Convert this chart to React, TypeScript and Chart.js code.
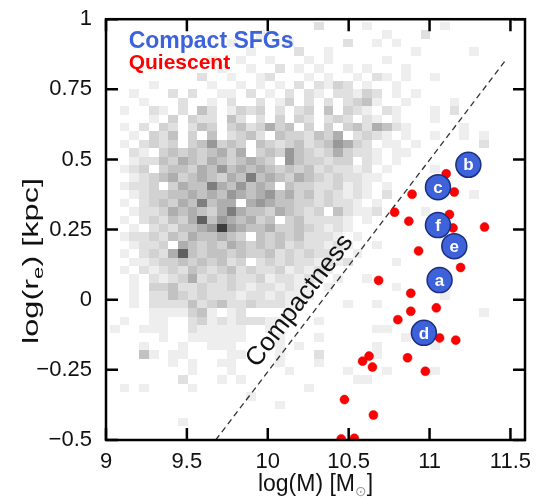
import React, { useEffect, useRef } from "react";
import { Chart, registerables } from "chart.js";
Chart.register(...registerables);

const FONT = "'Liberation Sans', Arial, Helvetica, sans-serif";

// Axis ticks
const xTickValues = [9, 9.5, 10, 10.5, 11, 11.5];
const xTickLabels = ["9", "9.5", "10", "10.5", "11", "11.5"];
const yTickValues = [-0.5, -0.25, 0, 0.25, 0.5, 0.75, 1];
const yTickLabels = ["\u22120.5", "\u22120.25", "0", "0.25", "0.5", "0.75", "1"];

// Quiescent galaxies (red)
const quiescentX = [11.103, 11.153, 10.892, 10.784, 10.872, 11.123, 11.145, 11.34, 10.932, 11.192, 10.685, 10.884, 11.042, 10.884, 10.804, 11.062, 11.162, 10.864, 10.626, 10.586, 10.647, 10.974, 10.474, 10.653, 10.454, 10.535];
const quiescentY = [0.449, 0.384, 0.376, 0.312, 0.28, 0.304, 0.256, 0.259, 0.174, 0.115, 0.069, 0.023, -0.029, -0.041, -0.071, -0.136, -0.144, -0.207, -0.201, -0.219, -0.24, -0.255, -0.356, -0.411, -0.496, -0.494];

// Compact SFGs (blue, labelled)
const sfgLabels = ["a", "b", "c", "d", "e", "f"];
const sfgX = [11.062, 11.24, 11.052, 10.965, 11.153, 11.052];
const sfgY = [0.07, 0.481, 0.401, -0.118, 0.191, 0.266];

// Compactness threshold line
const compactLineX = [9.678, 11.476];
const compactLineY = [-0.5, 0.858];

// 2D histogram of the parent sample: bins of 0.06 dex (mass) x 0.03 dex (size)
const histX0 = 9.025;
const histDX = 0.06;
const histY0 = -0.51;
const histDY = 0.03;
// rows listed from top (y = 0.96..0.99) to bottom (y = -0.51..-0.48); '.' = empty, 1..9 = density level
const histRows = [
  ".......... .......... .2....1... ....1....",
  ".......... .....1.... ........1. ..2......",
  ".......... ..1.....1. ....2..1.1 .........",
  ".......... ....1....2 ..1....... .1.....1.",
  ".......... 1..1..1... 1.1.....1. .........",
  ".......... .1..1..2.1 .1..1.1... 1........",
  ".........2 ..1..12... 1.1..1.21. 1..1.....",
  "....1..... 1..1.1.1.2 .2132.1..1 .........",
  "..1...2.2. .11.2.1.2. 21.22132.1 .1.......",
  "...1...2.. 1.2..2.13. 2.2.2341.. 1....1...",
  ".1..21.2.4 2.1323.2.2 3.4.321.21 ...1.2...",
  "....1.3.32 2.42.2.3.3 2.232.21.1 ...1.....",
  ".1.2.32.24 3.3423534. 3.3.342542 1.....1..",
  "..1.324.3. 4.2342.433 2435.2321. 1..1..1.1",
  ".1.2323.34 6343.43234 2346532.11 .1......2",
  "..21.34343 4535.34364 32353221.1 1........",
  "..12243543 5434543.64 33233.21.1 .........",
  ".123.34435 4645454343 4232212.1. ...1.....",
  "..12345345 4354745435 43232211.. .........",
  ".1223.3544 7546454.43 3223121.1. .........",
  "..12334454 5465456453 4232121.2. .......1.",
  ".1.2343547 455.565443 323221.1.. .........",
  "..12235454 3575443543 23.42112.. ..1......",
  ".1.2324358 4654534.34 22221.1... .........",
  "..1.232445 6965445334 32121..... .........",
  ".122324354 4543.43434 2221.1.... .........",
  "..1223.543 4354343423 22121..1.. .........",
  ".1.2325843 4434334232 3221.1.... .........",
  "..11233434 3423.23232 21212....1 .........",
  ".1.2123243 2342322312 121....... .........",
  "..1.212352 3232231221 21.1..1... .........",
  "..1.334223 2232122121 1.1......1 .........",
  "..1.224323 2221221211 1......... ....1....",
  "..1.222242 3422322211 ....1..1.. .........",
  "....111134 1.12....1. .......... ........1",
  ".1..11..23 12122211.. .1........ .........",
  "1..111..21 1111..1... .......11. .........",
  ".....1..11 1111...1.. .1........ 1........",
  "...1...1.. 111....1.1 .......1.. ...1.....",
  "...41.11.. ..11...1.. .2.....1.. .........",
  "......1.1. .11....1.. .1........ .........",
  "........1. ..1.....1. ....1...1. ...1.....",
  ".......2.. .1.1...... .....11... .........",
  ".1.1....1. .......... 1......... .........",
  ".......... ....1..... .......... .........",
  ".......... .......1.. .......... .........",
  ".......... .......... .......... .........",
  ".......1.. .......... .......... .........",
  ".......... .......... .......... .........",
  ".......... .......... .......... .........",
];
const histGrays = ["#eeeeee", "#e0e0e0", "#d2d2d2", "#c2c2c2", "#aeaeae", "#989898", "#7e7e7e", "#606060", "#3c3c3c"];

const histPlugin = {
  id: "hist2d",
  beforeDatasetsDraw(chart: any) {
    const { ctx, chartArea, scales } = chart;
    const xs = scales.x;
    const ys = scales.y;
    ctx.save();
    ctx.beginPath();
    ctx.rect(chartArea.left, chartArea.top, chartArea.width, chartArea.height);
    ctx.clip();
    const n = histRows.length;
    histRows.forEach((raw, r) => {
      const row = raw.replace(/ /g, "");
      const yb = histY0 + (n - 1 - r) * histDY;
      const py0 = Math.round(ys.getPixelForValue(yb + histDY));
      const py1 = Math.round(ys.getPixelForValue(yb));
      for (let c = 0; c < row.length; c++) {
        const ch = row[c];
        if (ch === ".") continue;
        const lvl = parseInt(ch, 10);
        const px0 = Math.round(xs.getPixelForValue(histX0 + c * histDX));
        const px1 = Math.round(xs.getPixelForValue(histX0 + (c + 1) * histDX));
        ctx.fillStyle = histGrays[lvl - 1];
        ctx.fillRect(px0, py0, px1 - px0, py1 - py0);
      }
    });
    ctx.restore();
  },
};

function drawPieces(ctx: CanvasRenderingContext2D, pieces: any[], startX: number) {
  let x = startX;
  for (const p of pieces) {
    ctx.font = p.font;
    ctx.fillStyle = p.color;
    ctx.fillText(p.text, x, p.dy);
    x += ctx.measureText(p.text).width;
  }
}
function measurePieces(ctx: CanvasRenderingContext2D, pieces: any[]) {
  let w = 0;
  for (const p of pieces) {
    ctx.font = p.font;
    w += ctx.measureText(p.text).width;
  }
  return w;
}

const decorPlugin = {
  id: "decor",
  afterDatasetsDraw(chart: any) {
    const { ctx } = chart;
    const meta = chart.getDatasetMeta(0);
    ctx.save();
    ctx.font = `bold 17px ${FONT}`;
    ctx.fillStyle = "#ffffff";
    ctx.textAlign = "center";
    ctx.textBaseline = "middle";
    meta.data.forEach((el: any, i: number) => {
      ctx.fillText(sfgLabels[i], el.x, el.y + 1);
    });
    ctx.restore();
  },
  afterDraw(chart: any) {
    const { ctx, chartArea, scales } = chart;
    const xs = scales.x;
    const ys = scales.y;
    const { left, right, top, bottom } = chartArea;
    ctx.save();
    // frame
    ctx.strokeStyle = "#000";
    ctx.lineWidth = 2.5;
    ctx.strokeRect(left, top, right - left, bottom - top);
    // inward ticks on all four sides
    const tl = 12;
    ctx.beginPath();
    xTickValues.forEach((v) => {
      const px = xs.getPixelForValue(v);
      ctx.moveTo(px, bottom);
      ctx.lineTo(px, bottom - tl);
      ctx.moveTo(px, top);
      ctx.lineTo(px, top + tl);
    });
    yTickValues.forEach((v) => {
      const py = ys.getPixelForValue(v);
      ctx.moveTo(left, py);
      ctx.lineTo(left + tl, py);
      ctx.moveTo(right, py);
      ctx.lineTo(right - tl, py);
    });
    ctx.stroke();

    // legend texts
    ctx.textAlign = "left";
    ctx.textBaseline = "alphabetic";
    ctx.font = `bold 23px ${FONT}`;
    ctx.fillStyle = "#3d63dc";
    ctx.fillText("Compact SFGs", xs.getPixelForValue(9.14), ys.getPixelForValue(0.897));
    ctx.font = `bold 21px ${FONT}`;
    ctx.fillStyle = "#ff0000";
    ctx.fillText("Quiescent", xs.getPixelForValue(9.14), ys.getPixelForValue(0.823));

    // Compactness label along the line
    const lx0 = xs.getPixelForValue(compactLineX[0]);
    const ly0 = ys.getPixelForValue(compactLineY[0]);
    const lx1 = xs.getPixelForValue(compactLineX[1]);
    const ly1 = ys.getPixelForValue(compactLineY[1]);
    const ang = Math.atan2(ly1 - ly0, lx1 - lx0);
    ctx.save();
    ctx.translate(xs.getPixelForValue(10.198), ys.getPixelForValue(-0.004));
    ctx.rotate(ang);
    ctx.font = `26px ${FONT}`;
    ctx.fillStyle = "#111";
    ctx.textAlign = "center";
    ctx.textBaseline = "middle";
    ctx.fillText("Compactness", 0, 0);
    ctx.restore();

    // x title: log(M) [M_sun]
    const xPieces = [
      { text: "log(M) [M", font: `23px ${FONT}`, color: "#111", dy: 0 },
      { text: "\u2299", font: `14px 'DejaVu Sans', ${FONT}`, color: "#9a9a9a", dy: 5 },
      { text: "]", font: `23px ${FONT}`, color: "#111", dy: 0 },
    ];
    ctx.textAlign = "left";
    ctx.textBaseline = "alphabetic";
    const xw = measurePieces(ctx, xPieces);
    ctx.save();
    ctx.translate((left + right) / 2, 491);
    drawPieces(ctx, xPieces, -xw / 2);
    ctx.restore();

    // y title: log(r_e) [kpc]
    const yPieces = [
      { text: "log(r", font: `22px ${FONT}`, color: "#111", dy: 0 },
      { text: "e", font: `15px ${FONT}`, color: "#111", dy: 5 },
      { text: ") [kpc]", font: `22px ${FONT}`, color: "#111", dy: 0 },
    ];
    const yw = measurePieces(ctx, yPieces);
    const targetLen = 166;
    ctx.save();
    ctx.translate(38, 261);
    ctx.rotate(-Math.PI / 2);
    ctx.scale(targetLen / yw, 1);
    drawPieces(ctx, yPieces, -yw / 2);
    ctx.restore();

    ctx.restore();
  },
};

export default function App() {
  const ref = useRef<HTMLCanvasElement>(null);
  useEffect(() => {
    const canvas = ref.current;
    if (!canvas) return;
    const chart = new Chart(canvas, {
      type: "scatter",
      data: {
        datasets: [
          {
            label: "Compact SFGs",
            data: sfgX.map((x, i) => ({ x, y: sfgY[i] })),
            pointRadius: 12.5,
            pointHoverRadius: 12.5,
            pointBackgroundColor: "#3d62d9",
            pointBorderColor: "#1b2d7e",
            pointBorderWidth: 1.5,
            order: 0,
            clip: false,
          } as any,
          {
            label: "Quiescent",
            data: quiescentX.map((x, i) => ({ x, y: quiescentY[i] })),
            pointRadius: 4.5,
            pointHoverRadius: 4.5,
            pointBackgroundColor: "#ff0000",
            pointBorderColor: "#e00000",
            pointBorderWidth: 0.5,
            order: 1,
            clip: 0,
          } as any,
          {
            label: "Compactness",
            data: compactLineX.map((x, i) => ({ x, y: compactLineY[i] })),
            showLine: true,
            borderColor: "#333",
            borderWidth: 1.3,
            borderDash: [6, 4],
            pointRadius: 0,
            order: 2,
          } as any,
        ],
      },
      options: {
        animation: false,
        responsive: false,
        devicePixelRatio: 1,
        layout: { padding: { top: 17, right: 7, left: 0, bottom: 0 } },
        plugins: { legend: { display: false }, tooltip: { enabled: false }, title: { display: false } },
        events: [],
        scales: {
          x: {
            type: "linear",
            position: "bottom",
            min: 9,
            max: 11.59,
            afterBuildTicks: (s: any) => {
              s.ticks = xTickValues.map((v) => ({ value: v }));
            },
            afterFit: (s: any) => {
              s.height = 59;
            },
            ticks: {
              callback: (v: any) => xTickLabels[xTickValues.indexOf(Number(v))] ?? "",
              font: { family: FONT, size: 22 },
              color: "#111",
              padding: 1,
              maxRotation: 0,
              autoSkip: false,
            },
            grid: { display: false },
            border: { display: false },
          },
          y: {
            type: "linear",
            position: "left",
            min: -0.5,
            max: 1,
            afterBuildTicks: (s: any) => {
              s.ticks = yTickValues.map((v) => ({ value: v }));
            },
            afterFit: (s: any) => {
              s.width = 106;
            },
            ticks: {
              callback: (v: any) => yTickLabels[yTickValues.indexOf(Number(v))] ?? "",
              font: { family: FONT, size: 22 },
              color: "#111",
              padding: 6,
              autoSkip: false,
            },
            grid: { display: false },
            border: { display: false },
          },
        },
      } as any,
      plugins: [histPlugin, decorPlugin],
    });
    return () => chart.destroy();
  }, []);
  return (
    <div style={{ position: "absolute", left: 0, top: 0, width: 539, height: 499, background: "#fff" }}>
      <canvas ref={ref} width={539} height={499} style={{ display: "block", width: 539, height: 499 }} />
    </div>
  );
}
